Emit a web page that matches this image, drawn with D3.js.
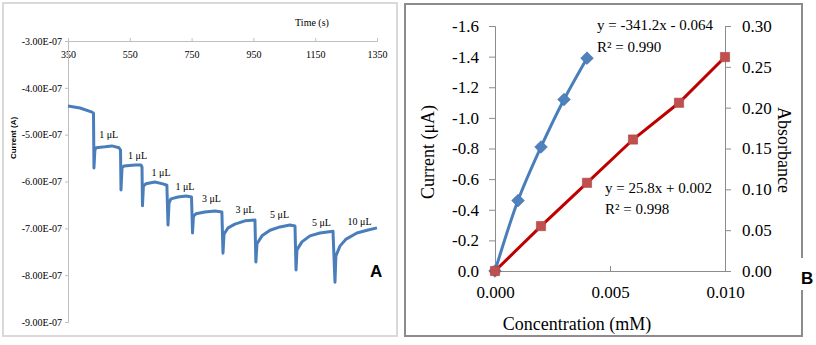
<!DOCTYPE html>
<html><head><meta charset="utf-8">
<script src="https://cdn.jsdelivr.net/npm/d3@7"></script>
<style>body{margin:0;background:#fff}svg{display:block}</style>
</head><body><svg id="c" width="816" height="345"></svg>
<script>
// ---------- Panel A data ----------
const timeTicks = [350, 550, 750, 950, 1150, 1350];
const currentTicks = [-3, -4, -5, -6, -7, -8, -9]; // units of 1e-7 A
const currentTickLabels = ["-3.00E-07","-4.00E-07","-5.00E-07","-6.00E-07","-7.00E-07","-8.00E-07","-9.00E-07"];
const timeS = [350,389,428,432.5,434,437,440.6,470,492,515,520,521.5,524.8,531,567,586,589.5,591,594,602,631.5,657,670,673.6,677,683,706,732,749.7,753,756,764,793,826,848,851.6,855,868,890,923,955,958,961.6,977.8,1003.7,1036,1068,1084.6,1088,1091,1107,1133,1165.5,1207.6,1214,1217,1230,1250,1285,1318,1350];
const currentE7 = [-4.39,-4.43,-4.52,-4.54,-5.71,-5.33,-5.28,-5.26,-5.24,-5.28,-5.33,-6.18,-5.71,-5.67,-5.65,-5.65,-5.69,-6.52,-6.10,-6.05,-6.01,-6.05,-6.08,-6.93,-6.46,-6.37,-6.33,-6.31,-6.33,-7.10,-6.74,-6.69,-6.65,-6.63,-6.65,-7.53,-7.12,-6.99,-6.91,-6.84,-6.82,-7.72,-7.33,-7.16,-7.04,-6.97,-6.93,-6.95,-7.89,-7.46,-7.29,-7.16,-7.10,-7.06,-8.15,-7.59,-7.38,-7.23,-7.10,-7.04,-6.99];
const injLabels = ["1 μL","1 μL","1 μL","1 μL","3 μL","3 μL","5 μL","5 μL","10 μL"];
const injLabelTime = [481.7,575,651,728.6,814.4,922.8,1034.5,1170.4,1293.4];
const injLabelCurrent = [-5.07,-5.52,-5.88,-6.18,-6.44,-6.67,-6.78,-6.95,-6.93];

// ---------- Panel B data ----------
const concTicks = [0, 0.005, 0.010];
const concTickLabels = ["0.000","0.005","0.010"];
const currentUATicks = [0,-0.2,-0.4,-0.6,-0.8,-1.0,-1.2,-1.4,-1.6];
const absTicks = [0,0.05,0.10,0.15,0.20,0.25,0.30];
const concCurrent = [0, 0.001, 0.002, 0.003, 0.004];
const currentUA = [0, -0.46, -0.81, -1.12, -1.39];
const concAbs = [0, 0.002, 0.004, 0.006, 0.008, 0.010];
const absorbance = [0, 0.055, 0.108, 0.161, 0.206, 0.262];

const svg = d3.select("#c");
svg.append("rect").attr("width",816).attr("height",345).attr("fill","#fff");
const serif = "'Liberation Serif','Times New Roman',serif";
const sans = "'Liberation Sans',Arial,sans-serif";

// ================= Panel A =================
svg.append("rect").attr("x",3).attr("y",3).attr("width",394).attr("height",333)
  .attr("fill","none").attr("stroke","#d9d9d9").attr("stroke-width",2);

const xA = d3.scaleLinear().domain([350,1350]).range([68,377]);
const yA = d3.scaleLinear().domain([-9,-3]).range([322,41]);

const gxA = svg.append("g").attr("transform",`translate(0,${yA(-3)})`)
  .call(d3.axisBottom(xA).tickValues(timeTicks).tickSize(-3).tickPadding(10).tickFormat(d3.format("d")));
const gyA = svg.append("g").attr("transform",`translate(${xA(350)},0)`)
  .call(d3.axisLeft(yA).tickValues(currentTicks).tickSize(3).tickPadding(3)
    .tickFormat((d,i)=>currentTickLabels[i]));
[gxA,gyA].forEach(g=>{
  g.selectAll("path,line").attr("stroke","#bfbfbf");
  g.selectAll("text").attr("font-family",serif).attr("font-size",10).attr("fill","#000");
});

const lineA = d3.line().x((d,i)=>xA(timeS[i])).y(d=>yA(d));
svg.append("path").datum(currentE7).attr("d",lineA)
  .attr("fill","none").attr("stroke","#4a7ebb").attr("stroke-width",3)
  .attr("stroke-linejoin","round");

svg.selectAll(".inj").data(injLabels).enter().append("text")
  .attr("x",(d,i)=>xA(injLabelTime[i])).attr("y",(d,i)=>yA(injLabelCurrent[i]))
  .attr("text-anchor","middle").attr("font-family",serif).attr("font-size",10).text(d=>d);

svg.append("text").attr("x",312).attr("y",26).attr("text-anchor","middle")
  .attr("font-family",serif).attr("font-size",10).text("Time (s)");
svg.append("text").attr("transform","translate(16,138) rotate(-90)").attr("text-anchor","middle")
  .attr("font-family",sans).attr("font-size",8).attr("font-weight","bold").text("Current (A)");
svg.append("text").attr("x",370).attr("y",277).attr("font-family",sans).attr("font-size",17)
  .attr("font-weight","bold").text("A");

// ================= Panel B =================
svg.append("rect").attr("x",405).attr("y",4).attr("width",397).attr("height",332)
  .attr("fill","none").attr("stroke","#8c8c8c").attr("stroke-width",2);
svg.append("rect").attr("x",797).attr("y",258).attr("width",18).attr("height",32).attr("fill","#fff");
svg.append("text").attr("x",801).attr("y",284).attr("font-family",sans).attr("font-size",17)
  .attr("font-weight","bold").text("B");

const xB = d3.scaleLinear().domain([0,0.01]).range([495,725]);
const yL = d3.scaleLinear().domain([0,-1.6]).range([271,26]);
const yR = d3.scaleLinear().domain([0,0.3]).range([271,26]);

const gxB = svg.append("g").attr("transform",`translate(0,${yL(0)})`)
  .call(d3.axisBottom(xB).tickValues(concTicks).tickSize(-5).tickPadding(15)
    .tickFormat((d,i)=>concTickLabels[i]));
const gyL = svg.append("g").attr("transform",`translate(${xB(0)},0)`)
  .call(d3.axisLeft(yL).tickValues(currentUATicks).tickSize(6).tickPadding(10)
    .tickFormat(d=> d===0 ? "0.0" : d3.format(".1f")(d).replace("−","-")));
const gyR = svg.append("g").attr("transform",`translate(${xB(0.01)},0)`)
  .call(d3.axisRight(yR).tickValues(absTicks).tickSize(6).tickPadding(11)
    .tickFormat(d3.format(".2f")));
[gxB,gyL,gyR].forEach(g=>{
  g.selectAll("path,line").attr("stroke","#8c8c8c");
  g.selectAll("path").attr("stroke-width",1);
  g.selectAll("text").attr("font-family",serif).attr("font-size",17).attr("fill","#000");
});

// blue current series (smoothed)
const lineB = d3.line().x((d,i)=>xB(concCurrent[i])).y(d=>yL(d)).curve(d3.curveCatmullRom.alpha(0.5));
svg.append("path").datum(currentUA).attr("d",lineB).attr("fill","none")
  .attr("stroke","#4a7ebb").attr("stroke-width",3);
svg.selectAll(".dia").data(currentUA).enter().append("path")
  .attr("transform",(d,i)=>`translate(${xB(concCurrent[i])},${yL(d)}) rotate(45)`)
  .attr("d",d3.symbol(d3.symbolSquare,80)()).attr("fill","#4f81bd").attr("stroke","#3f71ad").attr("stroke-width",0.6);

// red absorbance series
const lineR = d3.line().x((d,i)=>xB(concAbs[i])).y(d=>yR(d));
svg.append("path").datum(absorbance).attr("d",lineR).attr("fill","none")
  .attr("stroke","#c00000").attr("stroke-width",3);
svg.selectAll(".sq").data(absorbance).enter().append("path")
  .attr("transform",(d,i)=>`translate(${xB(concAbs[i])},${yR(d)})`)
  .attr("d",d3.symbol(d3.symbolSquare,85)()).attr("fill","#c0504d").attr("stroke","#b0403d").attr("stroke-width",0.6);

// equations
const eq = [["y = -341.2x - 0.064",597,30],["R² = 0.990",597,52],["y = 25.8x + 0.002",605,193],["R² = 0.998",605,214]];
svg.selectAll(".eq").data(eq).enter().append("text")
  .attr("x",d=>d[1]).attr("y",d=>d[2]).attr("font-family",serif).attr("font-size",15).text(d=>d[0]);

svg.append("text").attr("x",577).attr("y",330).attr("text-anchor","middle")
  .attr("font-family",serif).attr("font-size",18).text("Concentration (mM)");
svg.append("text").attr("transform","translate(428,152) rotate(-90)").attr("text-anchor","middle")
  .attr("dy","0.35em").attr("font-family",serif).attr("font-size",18).text("Current (μA)");
svg.append("text").attr("transform","translate(784,150) rotate(90)").attr("text-anchor","middle")
  .attr("dy","0.35em").attr("font-family",serif).attr("font-size",18).text("Absorbance");
</script></body></html>
